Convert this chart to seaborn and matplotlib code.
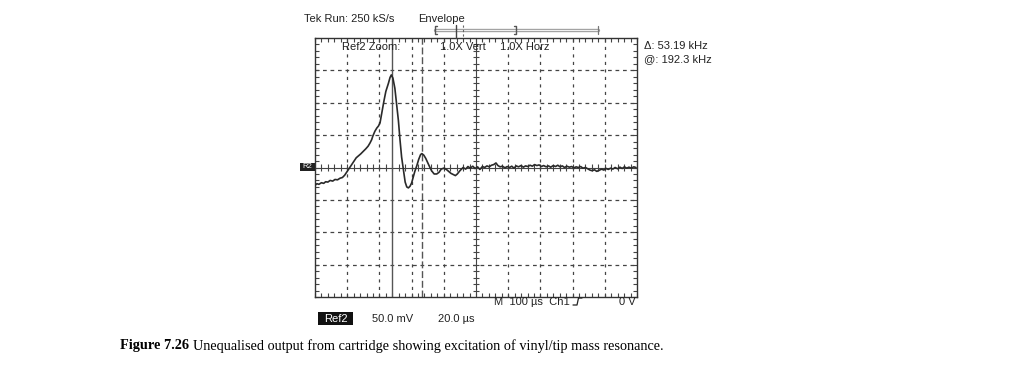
import numpy as np
import pandas as pd
import matplotlib
matplotlib.use("Agg")
import matplotlib.pyplot as plt
from matplotlib.patches import Rectangle
import seaborn as sns

# ---- data (time in divisions, voltage in divisions) ----
time_div = [0.00, 0.06, 0.12, 0.20, 0.27, 0.33, 0.40, 0.47, 0.55, 0.62, 0.70, 0.78, 0.85, 0.92,
            1.00, 1.06, 1.12, 1.20, 1.28, 1.35, 1.42, 1.50, 1.58, 1.65, 1.71, 1.76, 1.80, 1.86,
            1.92, 1.97, 2.02, 2.08, 2.14, 2.20, 2.28, 2.33, 2.37, 2.42, 2.48, 2.53, 2.59, 2.64,
            2.69, 2.75, 2.80, 2.85, 2.90, 2.95, 3.00, 3.05, 3.10, 3.16, 3.22, 3.28, 3.32, 3.38,
            3.44, 3.50, 3.56, 3.62, 3.70, 3.78, 3.85, 3.92, 4.00, 4.08, 4.15, 4.22, 4.30, 4.36,
            4.42, 4.50, 4.55,
            4.60, 4.68, 4.75, 4.82, 4.90, 4.97, 5.05, 5.12, 5.20, 5.27, 5.34, 5.41, 5.48, 5.55,
            5.62, 5.68, 5.75, 5.82, 5.90, 5.97, 6.04, 6.11, 6.18, 6.25, 6.32, 6.40, 6.47, 6.54,
            6.61, 6.68, 6.75, 6.82, 6.89, 6.96, 7.03, 7.10, 7.18, 7.25, 7.32, 7.40, 7.47, 7.54,
            7.61, 7.68, 7.75, 7.82, 7.90, 7.97, 8.04, 8.11, 8.18, 8.25, 8.32, 8.40, 8.47, 8.54,
            8.61, 8.68, 8.75, 8.82, 8.90, 8.97, 9.04, 9.11, 9.18, 9.25, 9.32, 9.40, 9.47, 9.54,
            9.61, 9.68, 9.75, 9.82, 9.90, 9.97]
volts_div = [-0.55, -0.50, -0.52, -0.47, -0.49, -0.44, -0.45, -0.40, -0.42, -0.37, -0.38, -0.33, -0.31, -0.24,
             -0.12, -0.03, 0.06, 0.18, 0.30, 0.36, 0.42, 0.50, 0.58, 0.66, 0.76, 0.86, 0.98, 1.12,
             1.22, 1.28, 1.38, 1.72, 2.05, 2.35, 2.60, 2.78, 2.86, 2.76, 2.45, 2.00, 1.45, 0.85,
             0.32, -0.10, -0.45, -0.60, -0.63, -0.58, -0.48, -0.30, -0.12, 0.05, 0.25, 0.40, 0.43, 0.38,
             0.28, 0.15, 0.02, -0.10, -0.20, -0.20, -0.15, -0.05, -0.02, -0.06, -0.12, -0.18, -0.22, -0.25,
             -0.20, -0.10, -0.05,
             0.00, -0.05, 0.03, -0.02, 0.04, -0.03, 0.02, -0.06, 0.03, 0.00, 0.05, 0.02, 0.07, 0.09,
             0.14, 0.06, 0.02, 0.04, -0.01, 0.03, 0.00, 0.04, -0.02, 0.05, 0.02, 0.06, 0.01, 0.05,
             0.03, 0.07, 0.04, 0.09, 0.06, 0.08, 0.03, 0.06, 0.02, 0.05, 0.01, 0.06, 0.03, 0.07,
             0.02, 0.05, 0.00, 0.04, 0.01, 0.03, -0.01, 0.02, 0.00, 0.03, -0.02, 0.00, -0.04, -0.08,
             -0.10, -0.07, -0.12, -0.09, -0.05, -0.08, -0.03, -0.06, -0.02, -0.05, 0.00, -0.04, 0.01, -0.03,
             0.02, -0.02, 0.01, -0.02, 0.02, 0.00]

cursor_positions = [2.39, 3.32]   # in divisions
top_texts = ["Tek Run: 250 kS/s", "Envelope"]
inside_texts = ["Ref2 Zoom:", "1.0X Vert", "1.0X Horz"]
right_texts = ["\u0394: 53.19 kHz", "@: 192.3 kHz"]
bottom_texts = ["M  100 \u00b5s  Ch1", "0 V"]
scale_texts = ["Ref2", "50.0 mV", "20.0 \u00b5s"]
caption_bold = "Figure 7.26"
caption_text = "Unequalised output from cartridge showing excitation of vinyl/tip mass resonance."

sns.set_theme(style="white")
plt.rcParams["font.family"] = ["Liberation Sans", "DejaVu Sans"]

W, H = 1014, 366
fig = plt.figure(figsize=(W / 100, H / 100), dpi=100)
fig.patch.set_facecolor("white")

def fx(px):
    return px / W

def fy(py):
    return 1 - py / H

L, R, T, B = 315, 637, 38, 297
ax = fig.add_axes([fx(L), fy(B), (R - L) / W, (B - T) / H])
ax.set_facecolor("white")

df = pd.DataFrame({"t": time_div, "v": volts_div})
sns.lineplot(data=df, x="t", y="v", ax=ax, color="#2a2a2a", linewidth=1.2, sort=False, zorder=3)

ax.set_xlim(0, 10)
ax.set_ylim(-4, 4)
ax.set_xlabel("")
ax.set_ylabel("")

# graticule
for gx in range(1, 10):
    if gx == 5:
        continue
    ax.axvline(gx, color="#444444", lw=0.9, ls=(0, (2.5, 3.5)), zorder=1)
for gy in range(-3, 4):
    if gy == 0:
        continue
    ax.axhline(gy, color="#444444", lw=0.9, ls=(0, (3, 3)), zorder=1)
ax.axvline(5, color="#444444", lw=0.8, zorder=1)
ax.axhline(0, color="#444444", lw=0.8, zorder=1)
minor_x = np.arange(0.2, 10, 0.2)
minor_y = np.arange(-3.8, 4, 0.2)
ax.vlines(minor_x, -0.1, 0.1, color="#444444", lw=0.8, zorder=1)
ax.hlines(minor_y, 4.9, 5.1, color="#444444", lw=0.8, zorder=1)

for s in ax.spines.values():
    s.set_visible(True)
    s.set_color("#333333")
    s.set_linewidth(1.0)
ax.set_xticks(np.arange(0, 10.01, 0.2))
ax.set_yticks(np.arange(-4, 4.01, 0.2))
ax.tick_params(axis="both", which="both", direction="in", length=3, width=0.8,
               color="#444444", top=True, right=True, bottom=True, left=True,
               labelbottom=False, labelleft=False)

# cursors
ax.axvline(cursor_positions[0], color="#555555", lw=1.0, zorder=2)
ax.axvline(cursor_positions[1], color="#555555", lw=1.0, ls=(0, (5, 2)), zorder=2)

# texts
fs = 8
tc = "#222222"
fig.text(fx(304), fy(19), top_texts[0], fontsize=fs, va="center", ha="left", color=tc)
fig.text(fx(418), fy(19), top_texts[1], fontsize=fs, va="center", ha="left", color=tc)
fig.text(fx(342), fy(47), inside_texts[0], fontsize=fs, va="center", ha="left", color=tc)
fig.text(fx(440), fy(47), inside_texts[1], fontsize=fs, va="center", ha="left", color=tc)
fig.text(fx(500), fy(47), inside_texts[2], fontsize=fs, va="center", ha="left", color=tc)
fig.text(fx(644), fy(46), right_texts[0], fontsize=fs, va="center", ha="left", color=tc)
fig.text(fx(644), fy(59), right_texts[1], fontsize=fs, va="center", ha="left", color=tc)
fig.text(fx(494), fy(302), bottom_texts[0], fontsize=fs, va="center", ha="left", color=tc)
fig.text(fx(636), fy(302), bottom_texts[1], fontsize=fs, va="center", ha="right", color=tc)
# trigger (rising edge) symbol
fig.add_artist(plt.Line2D([fx(573), fx(577), fx(578.5), fx(582)],
                          [fy(305), fy(305), fy(298), fy(298)], color=tc, lw=0.9))

# Ref2 label box
fig.add_artist(Rectangle((fx(318), fy(325)), fx(353) - fx(318), fy(312) - fy(325),
                         transform=fig.transFigure, facecolor="#111111", edgecolor="none"))
fig.text(fx(335.5), fy(318.5), scale_texts[0], fontsize=fs, va="center", ha="center", color="white")
fig.text(fx(372), fy(319), scale_texts[1], fontsize=fs, va="center", ha="left", color=tc)
fig.text(fx(438), fy(319), scale_texts[2], fontsize=fs, va="center", ha="left", color=tc)

# R2 marker at left
fig.add_artist(Rectangle((fx(300), fy(171)), fx(315) - fx(300), fy(163) - fy(171),
                         transform=fig.transFigure, facecolor="#222222", edgecolor="none"))
fig.text(fx(307.5), fy(167), "R2", fontsize=5.5, va="center", ha="center", color="white")

# envelope bracket (figure coordinates)
ybar = fy(30)
fig.add_artist(plt.Line2D([fx(435), fx(598)], [ybar, ybar], color="#999999", lw=2.4))
fig.add_artist(plt.Line2D([fx(435), fx(598)], [ybar, ybar], color="#f0f0f0", lw=0.9))
fig.add_artist(plt.Line2D([fx(437), fx(435), fx(435), fx(437)], [fy(26), fy(26), fy(34), fy(34)],
                          color="#555555", lw=1.0))
fig.add_artist(plt.Line2D([fx(514), fx(516), fx(516), fx(514)], [fy(26), fy(26), fy(34), fy(34)],
                          color="#555555", lw=1.0))
fig.add_artist(plt.Line2D([fx(598), fx(598)], [fy(26), fy(34)], color="#777777", lw=0.9))
fig.add_artist(plt.Line2D([fx(455.5), fx(455.5)], [fy(25), fy(38)], color="#444444", lw=1.0))
fig.add_artist(plt.Line2D([fx(463), fx(463)], [fy(25), fy(38)], color="#666666", lw=0.8, ls=(0, (2, 2))))

# caption
cfs = 10.3
fig.text(fx(189), fy(346), caption_bold, fontsize=cfs, fontweight="bold", va="center", ha="right",
         family=["Liberation Serif", "DejaVu Serif"], color="black")
fig.text(fx(193), fy(346), caption_text, fontsize=cfs, va="center", ha="left",
         family=["Liberation Serif", "DejaVu Serif"], color="black")

fig.savefig("out.png", dpi=100, facecolor="white")
